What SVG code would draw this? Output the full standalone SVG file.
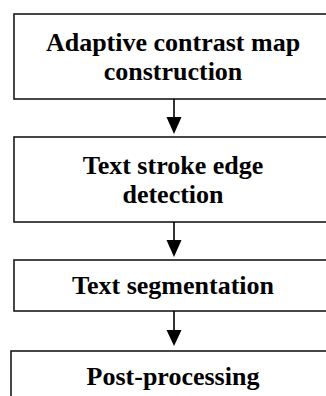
<svg xmlns="http://www.w3.org/2000/svg" width="326" height="396" viewBox="0 0 326 396">
<style>
.box{fill:#fff;stroke:#1a1a1a;stroke-width:1.6}
.lbl{font-family:"Liberation Serif","Times New Roman",serif;font-weight:bold;font-size:26px;fill:#000;text-anchor:middle}
.conn{stroke:#000;stroke-width:1.6;fill:none}
.head{fill:#000}
</style>
<rect width="326" height="396" fill="#fff"/>
<g id="node1">
<rect class="box" x="14" y="14" width="330" height="85"/>
<text class="lbl" x="173" y="51">Adaptive contrast map</text>
<text class="lbl" x="173" y="80">construction</text>
</g>
<g id="node2">
<rect class="box" x="14" y="137" width="330" height="85"/>
<text class="lbl" x="173" y="174">Text stroke edge</text>
<text class="lbl" x="173" y="203">detection</text>
</g>
<g id="node3">
<rect class="box" x="14" y="260" width="330" height="51"/>
<text class="lbl" x="173" y="294">Text segmentation</text>
</g>
<g id="node4">
<rect class="box" x="11" y="351" width="333" height="60"/>
<text class="lbl" x="173" y="385">Post-processing</text>
</g>
<g id="connectors">
<line class="conn" x1="174" y1="99" x2="174" y2="118"/>
<polygon class="head" points="166.5,117 181.5,117 174,134"/>
<line class="conn" x1="174" y1="222" x2="174" y2="241"/>
<polygon class="head" points="166.5,240 181.5,240 174,257"/>
<line class="conn" x1="174" y1="311" x2="174" y2="331"/>
<polygon class="head" points="166.5,330 181.5,330 174,346"/>
</g>
</svg>
